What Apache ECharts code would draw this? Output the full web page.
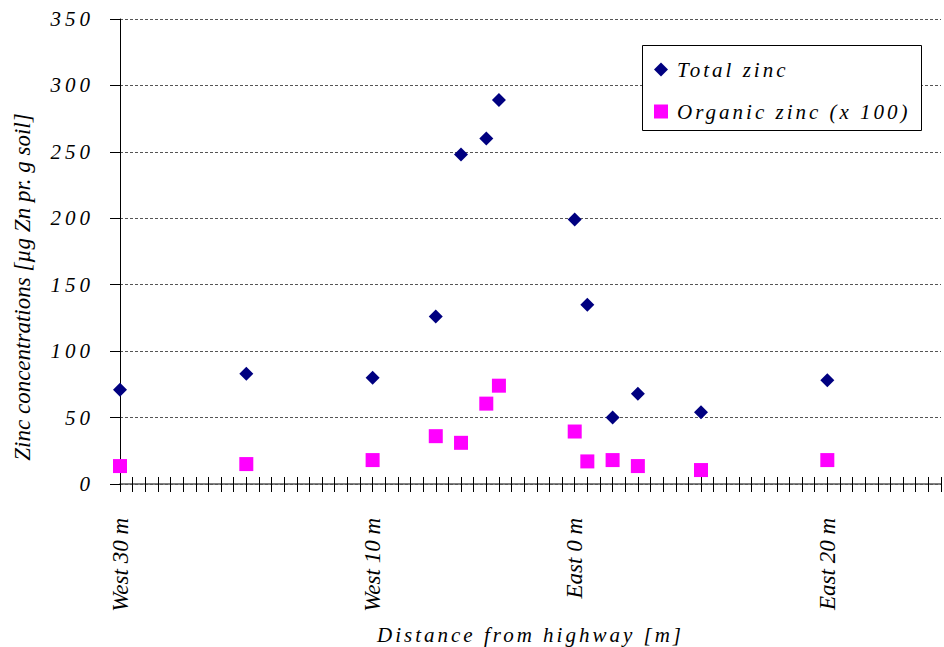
<!DOCTYPE html>
<html><head><meta charset="utf-8">
<script src="https://cdn.jsdelivr.net/npm/echarts@6/dist/echarts.min.js"></script>
<style>
html,body{margin:0;padding:0;background:#fff}
#chart{width:944px;height:647px}
#chart text[style*="Times New Roman"],#chart text[font-family*="Times New Roman"]{letter-spacing:3px}
#chart text[style*="Nimbus Roman"],#chart text[font-family*="Nimbus Roman"]{letter-spacing:4px}
</style></head><body><div id="chart"></div>
<script>
const positions = [0, 10, 20, 25, 27, 29, 30, 36, 37, 39, 41, 46, 56];
const totalZinc = [71, 83, 80, 126, 248, 260, 289, 199, 135, 50, 68, 54, 78];
const organicZinc = [13.5, 15, 18, 36, 31, 60.5, 74, 39.5, 17, 18, 13.5, 10.5, 18];
const tickPositions = [0, 20, 36, 56];
const tickLabels = ['West 30 m', 'West 10 m', 'East 0 m', 'East 20 m'];
const seriesNames = ['Total zinc', 'Organic zinc (x 100)'];
const xTitle = 'Distance from highway [m]';
const yTitle = 'Zinc concentrations [µg Zn pr. g soil]';

const SPACED = "'Liberation Serif', 'Times New Roman', serif";
const WIDE = "'Liberation Serif', 'Nimbus Roman', serif";
const PLAIN = "'Liberation Serif', serif";

const chart = echarts.init(document.getElementById('chart'), null, {renderer: 'svg'});
const xCommon = {type: 'value', min: 0, max: 65, interval: 1, splitLine: {show: false}};
const yCommon = {type: 'value', min: 0, max: 350, interval: 50};
chart.setOption({
  animation: false,
  backgroundColor: '#fff',
  grid: {left: 120, right: 3, top: 19, bottom: 163, containLabel: false, outerBoundsMode: 'none'},
  xAxis: [
    Object.assign({}, xCommon, {
      position: 'bottom',
      name: xTitle, nameLocation: 'middle', nameGap: 140,
      nameTextStyle: {fontFamily: SPACED, fontStyle: 'italic', fontSize: 21, color: '#000'},
      axisLine: {show: true, lineStyle: {color: '#555', width: 1.5}},
      axisTick: {show: true, inside: false, length: 8, lineStyle: {color: '#000'}},
      axisLabel: {
        show: true, rotate: 90, margin: 34,
        fontFamily: PLAIN, fontStyle: 'italic', fontSize: 23, color: '#000',
        formatter: function (v) { const i = tickPositions.indexOf(v); return i >= 0 ? tickLabels[i] : ''; }
      }
    }),
    Object.assign({}, xCommon, {
      position: 'bottom',
      axisLine: {show: false},
      axisTick: {show: true, inside: true, length: 7, lineStyle: {color: '#000'}},
      axisLabel: {show: false}
    })
  ],
  yAxis: [
    Object.assign({}, yCommon, {
      axisLine: {show: true, lineStyle: {color: '#000', width: 1}},
      axisTick: {show: true, inside: false, length: 10, lineStyle: {color: '#000'}},
      axisLabel: {margin: 26, fontFamily: WIDE, fontStyle: 'italic', fontSize: 21, color: '#000'},
      splitLine: {show: true, lineStyle: {color: '#555', type: [3, 2], width: 1}}
    }),
    Object.assign({}, yCommon, {
      axisLine: {show: false},
      axisTick: {show: true, inside: true, length: 8, lineStyle: {color: '#000'}},
      axisLabel: {show: false},
      splitLine: {show: false}
    })
  ],
  legend: {
    orient: 'vertical', left: 654, top: 59, padding: 0,
    itemWidth: 14, itemHeight: 14, itemGap: 21,
    textStyle: {fontFamily: SPACED, fontStyle: 'italic', fontSize: 21, color: '#000', padding: [0, 0, 0, 4]},
    data: [{name: seriesNames[0], icon: 'diamond'}, {name: seriesNames[1], icon: 'rect'}]
  },
  graphic: [
    {type: 'rect', z: 3, shape: {x: 642.5, y: 45.5, width: 279, height: 85},
     style: {fill: '#fff', stroke: '#000', lineWidth: 1}},
    {type: 'text', x: 22, y: 287, rotation: Math.PI / 2, z: 5,
     style: {text: yTitle, fontFamily: PLAIN, fontStyle: 'italic', fontSize: 23, fill: '#000', align: 'center', verticalAlign: 'middle'}}
  ],
  series: [
    {name: seriesNames[0], type: 'scatter', xAxisIndex: 0, yAxisIndex: 0, symbol: 'diamond', symbolSize: [14, 14],
     itemStyle: {color: '#000080', opacity: 1}, data: positions.map((p, i) => [p, totalZinc[i]])},
    {name: seriesNames[1], type: 'scatter', xAxisIndex: 0, yAxisIndex: 0, symbol: 'rect', symbolSize: 14,
     itemStyle: {color: '#ff00ff', opacity: 1}, data: positions.map((p, i) => [p, organicZinc[i]])}
  ]
});
</script></body></html>
